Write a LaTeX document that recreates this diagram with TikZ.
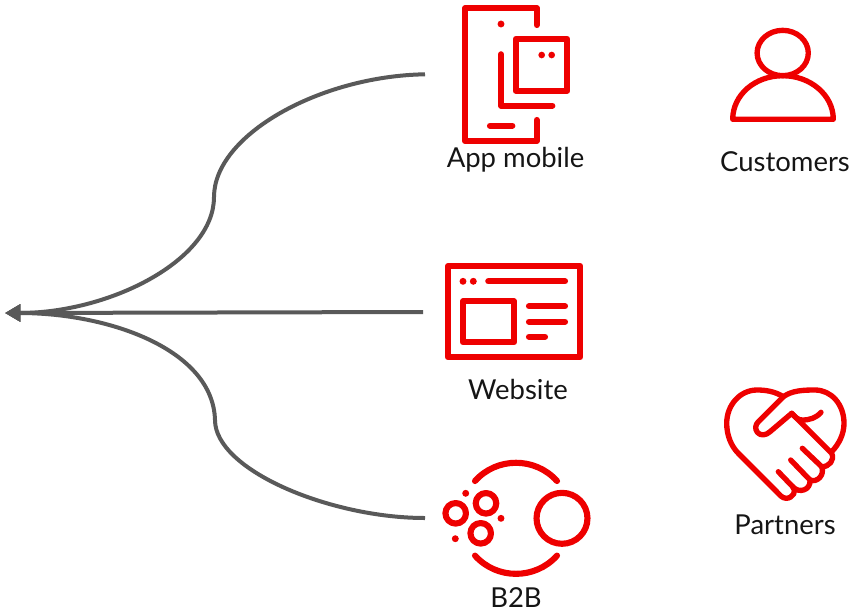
\documentclass[tikz,border=0pt]{standalone}
\usepackage{fontspec}
\setmainfont{Lato}
\usetikzlibrary{arrows.meta}
\definecolor{rhred}{HTML}{EE0000}
\definecolor{linegray}{HTML}{595959}
\definecolor{ink}{HTML}{151515}
\tikzset{
  x=0.75pt,y=-0.75pt,
  icon/.style={draw=rhred,line width=4.6pt,line cap=round,line join=round},
  thin icon/.style={draw=rhred,line width=4pt,line cap=round,line join=round},
  dotmark/.style={fill=rhred,draw=none},
  lbl/.style={text=ink,font=\fontsize{20.6pt}{23pt}\selectfont,inner sep=0pt,anchor=center},
  flow/.style={draw=linegray,line width=3pt,-{Triangle[length=11.5pt,width=12.5pt]}},
}
\begin{document}
\begin{tikzpicture}
\useasboundingbox (0,0) rectangle (852,611);
% connector ends
\coordinate (hub) at (5,313);
\coordinate (fromapp) at (425,74.3);
\coordinate (fromweb) at (423,312);
\coordinate (fromb2b) at (425,518);
\coordinate (kneeA) at (214,197);
\coordinate (kneeB) at (215,420);
\draw[flow] (fromapp) .. controls (320,76) and (214,135) .. (kneeA) .. controls (214,260) and (110,313) .. (hub);
\draw[flow] (fromb2b) .. controls (330,518) and (215,470) .. (kneeB) .. controls (213,350) and (110,313) .. (hub);
\draw[flow] (fromweb) -- (hub);
% phone
\draw[icon] (536.7,25) -- (536.7,8.3) -- (465,8.3) -- (465,141) -- (536.7,141) -- (536.7,120);
\fill[dotmark] (501,24) circle[radius=2.6pt];
\draw[icon] (501,54.3) -- (501,105.7) -- (552.3,105.7);
\draw[icon] (515.7,39) rectangle (567.3,90.7);
\fill[dotmark] (541.7,55) circle[radius=2.5pt];
\fill[dotmark] (551.7,55) circle[radius=2.5pt];
\draw[icon] (490,125.7) -- (512.3,125.7);
\node[lbl] (app) at (515.5,160) {App mobile};
% website
\draw[icon] (448,266) rectangle (580.3,357.3);
\fill[dotmark] (463,281.3) circle[radius=2.6pt];
\fill[dotmark] (473.3,281.3) circle[radius=2.6pt];
\draw[icon] (488.3,281.3) -- (565,281.3);
\draw[icon] (463,301.3) rectangle (514,342.3);
\draw[icon] (529,306.3) -- (565,306.3);
\draw[icon] (529,321.7) -- (565,321.7);
\draw[icon] (529,336.7) -- (545,336.7);
\node[lbl] (web) at (518,389) {Website};
% b2b
\draw[icon] (475,481) .. controls (496.8,456.7) and (535.2,456.7) .. (557,481);
\draw[icon] (475,555.6) .. controls (496.8,579.9) and (535.2,579.9) .. (557,555.6);
\draw[icon] (562,518.3) circle[radius=19.1pt];
\draw[icon] (455.7,513.3) circle[radius=7.7pt];
\draw[icon] (486,503.3) circle[radius=7.7pt];
\draw[icon] (480.7,533.3) circle[radius=7.7pt];
\fill[dotmark] (465.7,493.3) circle[radius=2.6pt];
\fill[dotmark] (501,518.3) circle[radius=2.6pt];
\fill[dotmark] (455.3,538.7) circle[radius=2.6pt];
\node[lbl] (b2b) at (516,598) {B2B};
% person
\draw[thin icon] (782.7,53) ellipse[x radius=19.2pt,y radius=17pt];
\draw[thin icon] (732.7,119.3) .. controls (732.7,95) and (755,75.7) .. (782.7,75.7) .. controls (810.3,75.7) and (833.3,95) .. (833.3,119.3) -- cycle;
\node[lbl] (cust) at (785,162) {Customers};
% handshake heart
\draw[thin icon] (783.3,396.7) .. controls (775,391.5) and (766,390) .. (757,390) .. controls (740,390) and (726.7,405) .. (726.7,423.3)
  .. controls (726.7,435) and (731,446) .. (738.3,453.3) -- (776.7,491.7) .. controls (779,494) and (782,498.3) .. (786,498.3)
  .. controls (793,498.3) and (797,491) .. (792.7,486.7) -- (778.3,471.7);
\draw[thin icon] (792.7,486.7) .. controls (799,494) and (811,490) .. (810,480) -- (790.7,460);
\draw[thin icon] (810,480) .. controls (817,483) and (825,475) .. (821.7,466.7) -- (802.3,448.3);
\draw[thin icon] (821.7,466.7) .. controls (829,467) and (835,460) .. (831.7,453.3) -- (791.7,413.3) -- (770,431.7)
  .. controls (766,435.5) and (760.5,436) .. (757.5,432.5) .. controls (754.5,429) and (755.5,424.5) .. (758.3,421.7) -- (783.3,396.7)
  .. controls (792,390.5) and (803,390) .. (815,390) .. controls (831,390) and (844,404) .. (844,423.3) .. controls (844,434) and (839,444) .. (831.7,451.7);
\draw[thin icon] (791.7,413.3) .. controls (795,417) and (798,420) .. (802,420) .. controls (810,420) and (816,418) .. (821,412.3);
\node[lbl] (part) at (785,525) {Partners};
\end{tikzpicture}
\end{document}
